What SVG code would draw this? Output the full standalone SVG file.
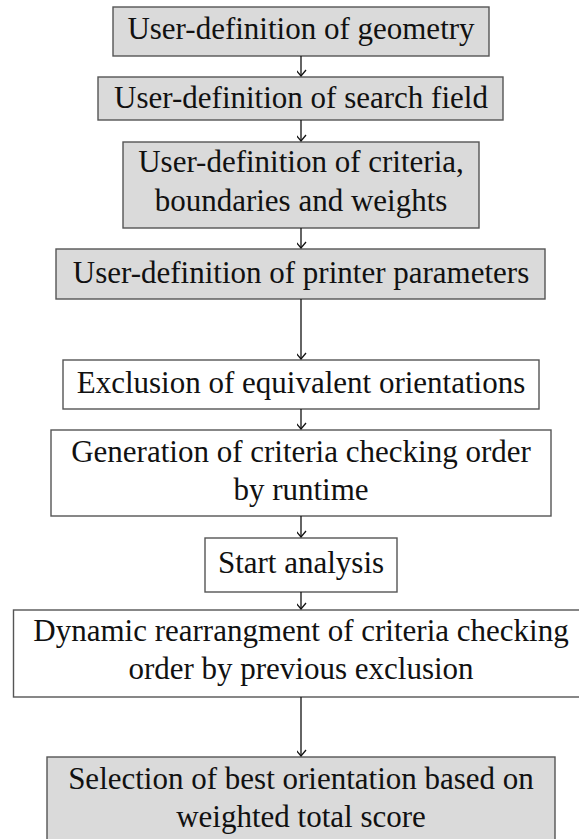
<svg xmlns="http://www.w3.org/2000/svg" width="579" height="839" viewBox="0 0 579 839">
<defs>
<marker id="arr" markerUnits="userSpaceOnUse" markerWidth="14" markerHeight="14" viewBox="-7 -10 14 14" refX="0" refY="0" orient="auto-start-reverse">
<path d="M-6,-5 L0,0 L-6,5" fill="none" stroke="#111" stroke-width="1.3"/>
</marker>
<style>
.g{fill:#dadada;stroke:#555;stroke-width:1.4}
.w{fill:#fff;stroke:#555;stroke-width:1.4}
text{font-family:"Liberation Serif","Times New Roman",serif;font-size:31px;fill:#111;text-anchor:middle}
.c line{stroke:#111;stroke-width:1.3;marker-end:url(#arr)}
</style>
</defs>
<rect width="579" height="839" fill="#fff"/>
<g id="n1"><rect class="g" x="113" y="7" width="376" height="49"/><text x="301" y="39">User-definition of geometry</text></g>
<g id="n2"><rect class="g" x="98" y="77" width="405" height="43"/><text x="301" y="108">User-definition of search field</text></g>
<g id="n3"><rect class="g" x="123" y="142" width="356" height="86"/><text x="301" y="172">User-definition of criteria,</text><text x="301" y="211">boundaries and weights</text></g>
<g id="n4"><rect class="g" x="56" y="249" width="489" height="50"/><text x="301" y="283">User-definition of printer parameters</text></g>
<g id="n5"><rect class="w" x="63" y="360" width="476" height="49"/><text x="301" y="393">Exclusion of equivalent orientations</text></g>
<g id="n6"><rect class="w" x="51" y="430" width="500" height="86"/><text x="301" y="462">Generation of criteria checking order</text><text x="301" y="500">by runtime</text></g>
<g id="n7"><rect class="w" x="205" y="538" width="192" height="54"/><text x="301" y="573">Start analysis</text></g>
<g id="n8"><rect class="w" x="13.5" y="610" width="576" height="87"/><text x="301" y="641">Dynamic rearrangment of criteria checking</text><text x="301" y="679">order by previous exclusion</text></g>
<g id="n9"><rect class="g" x="47" y="757" width="508" height="86"/><text x="301" y="789">Selection of best orientation based on</text><text x="301" y="827">weighted total score</text></g>
<g class="c" id="connectors">
<line x1="301" y1="56" x2="301" y2="76"/>
<line x1="301" y1="120" x2="301" y2="141"/>
<line x1="301" y1="228" x2="301" y2="248"/>
<line x1="301" y1="299" x2="301" y2="359"/>
<line x1="301" y1="409" x2="301" y2="429"/>
<line x1="301" y1="516" x2="301" y2="537"/>
<line x1="301" y1="592" x2="301" y2="609"/>
<line x1="301" y1="697" x2="301" y2="756"/>
</g>
</svg>
